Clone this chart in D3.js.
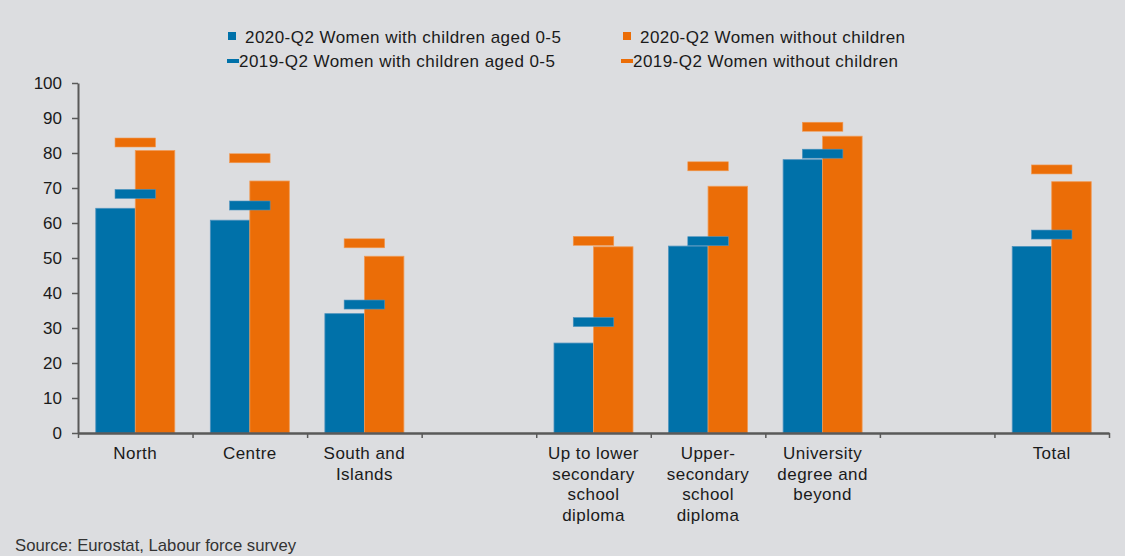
<!DOCTYPE html>
<html>
<head>
<meta charset="utf-8">
<script src="https://cdn.jsdelivr.net/npm/d3@7"></script>
<style>
  html, body { margin: 0; padding: 0; background: #dcdde0; }
  svg { display: block; font-family: "Liberation Sans", Arial, sans-serif; }
</style>
</head>
<body>
<svg id="chart" width="1125" height="556"></svg>
<script>
// Category slots along the x axis ("" marks an empty spacer slot)
const categories = [
  "North",
  "Centre",
  "South and\nIslands",
  "",
  "Up to lower\nsecondary\nschool\ndiploma",
  "Upper-\nsecondary\nschool\ndiploma",
  "University\ndegree and\nbeyond",
  "",
  "Total"
];

// Employment rates, % (null for spacer slots)
const withChildren2020    = [64.2, 60.8, 34.1, null, 25.7, 53.4, 78.1, null, 53.3];
const withoutChildren2020 = [80.7, 72.0, 50.5, null, 53.2, 70.5, 84.8, null, 71.8];
const withChildren2019    = [68.3, 65.0, 36.7, null, 31.7, 54.8, 79.8, null, 56.7];
const withoutChildren2019 = [83.0, 78.5, 54.2, null, 54.9, 76.2, 87.5, null, 75.3];

const yTicks = [0, 10, 20, 30, 40, 50, 60, 70, 80, 90, 100];

const legendLabels = [
  "2020-Q2 Women with children aged 0-5",
  "2020-Q2 Women without children",
  "2019-Q2 Women with children aged 0-5",
  "2019-Q2 Women without children"
];

const BLUE = "#0071a9";
const ORANGE = "#eb6d07";
const AXIS = "#595959";
const TEXT = "#1a1a1a";

const svg = d3.select("#chart");

const margin = { left: 78, right: 1109, top: 83, bottom: 433 };

const x = d3.scaleBand()
  .domain(d3.range(categories.length))
  .range([margin.left, margin.right])
  .paddingInner(0).paddingOuter(0);

const xInner = d3.scaleBand()
  .domain(["with", "without"])
  .range([0, x.bandwidth()])
  .paddingInner(0).paddingOuter(0.45);

const y = d3.scaleLinear().domain([0, 100]).range([margin.bottom, margin.top]);

// Bars for 2020-Q2
const rows = categories.map((c, i) => ({
  i,
  w20: withChildren2020[i], o20: withoutChildren2020[i],
  w19: withChildren2019[i], o19: withoutChildren2019[i]
})).filter(d => d.w20 !== null);

const bars = svg.append("g");
rows.forEach(d => {
  [["with", d.w20, BLUE, "#4f93be"], ["without", d.o20, ORANGE, "#f09a55"]].forEach(([k, v, fill, edge]) => {
    bars.append("rect")
      .attr("x", x(d.i) + xInner(k))
      .attr("y", y(v))
      .attr("width", xInner.bandwidth())
      .attr("height", y(0) - y(v))
      .attr("fill", fill)
      .attr("stroke", edge)
      .attr("stroke-width", 0.8);
  });
});

// 2019-Q2 markers: short thick dashes centred on each pair
const markerW = xInner.bandwidth() + 1;
const markerH = 9;
const markers = svg.append("g");
rows.forEach(d => {
  const cx = x(d.i) + x.bandwidth() / 2;
  [[d.o19, ORANGE, "#f09a55"], [d.w19, BLUE, "#4f93be"]].forEach(([v, fill, edge]) => {
    markers.append("rect")
      .attr("x", cx - markerW / 2)
      .attr("y", y(v) - markerH / 2)
      .attr("width", markerW)
      .attr("height", markerH)
      .attr("fill", fill)
      .attr("stroke", edge)
      .attr("stroke-width", 0.6);
  });
});

// Y axis
const yAxis = svg.append("g")
  .attr("transform", `translate(${margin.left},0)`)
  .call(d3.axisLeft(y).tickValues(yTicks).tickSize(6).tickPadding(10).tickSizeOuter(0));
yAxis.select(".domain").attr("stroke", AXIS).attr("stroke-width", 2);
yAxis.selectAll(".tick line").attr("stroke", AXIS).attr("stroke-width", 1.5);
yAxis.selectAll(".tick text")
  .attr("fill", TEXT)
  .attr("font-size", 17)
  .attr("font-family", "Liberation Sans, Arial, sans-serif");

// X axis: ticks at slot boundaries
const xb = d3.scaleLinear().domain([0, categories.length]).range([margin.left, margin.right]);
const xAxis = svg.append("g")
  .attr("transform", `translate(0,${margin.bottom})`)
  .call(d3.axisBottom(xb).tickValues(d3.range(categories.length + 1)).tickSize(5).tickSizeOuter(0).tickFormat(""));
xAxis.select(".domain").attr("stroke", AXIS).attr("stroke-width", 2.5);
xAxis.selectAll(".tick line").attr("stroke", AXIS).attr("stroke-width", 1.5);

// Category labels
const labels = svg.append("g")
  .attr("font-size", 17)
  .attr("letter-spacing", 0.45)
  .attr("fill", TEXT)
  .attr("text-anchor", "middle");
categories.forEach((c, i) => {
  if (!c) return;
  const t = labels.append("text")
    .attr("x", x(i) + x.bandwidth() / 2)
    .attr("y", 459);
  c.split("\n").forEach((line, j) => {
    t.append("tspan")
      .attr("x", x(i) + x.bandwidth() / 2)
      .attr("dy", j === 0 ? 0 : 20.7)
      .text(line);
  });
});

// Legend
const legend = svg.append("g")
  .attr("font-size", 17)
  .attr("letter-spacing", 0.45)
  .attr("fill", TEXT);
const legendItems = [
  { label: legendLabels[0], color: BLUE,   kind: "square", x: 228, y: 37 },
  { label: legendLabels[1], color: ORANGE, kind: "square", x: 623, y: 37 },
  { label: legendLabels[2], color: BLUE,   kind: "dash",   x: 227, y: 61 },
  { label: legendLabels[3], color: ORANGE, kind: "dash",   x: 621, y: 61 }
];
legendItems.forEach(it => {
  if (it.kind === "square") {
    legend.append("rect")
      .attr("x", it.x).attr("y", it.y - 5)
      .attr("width", 8).attr("height", 8)
      .attr("fill", it.color);
    legend.append("text").attr("x", it.x + 17).attr("y", it.y + 6).text(it.label);
  } else {
    legend.append("rect")
      .attr("x", it.x).attr("y", it.y - 2)
      .attr("width", 12).attr("height", 4)
      .attr("fill", it.color);
    legend.append("text").attr("x", it.x + 12).attr("y", it.y + 6).text(it.label);
  }
});

// Source note
svg.append("text")
  .attr("x", 15).attr("y", 551)
  .attr("font-size", 17)
  .attr("font-family", "Liberation Sans Narrow, Arial Narrow, sans-serif")
  .attr("textLength", 281)
  .attr("lengthAdjust", "spacingAndGlyphs")
  .attr("fill", "#333")
  .text("Source: Eurostat, Labour force survey");
</script>
</body>
</html>
